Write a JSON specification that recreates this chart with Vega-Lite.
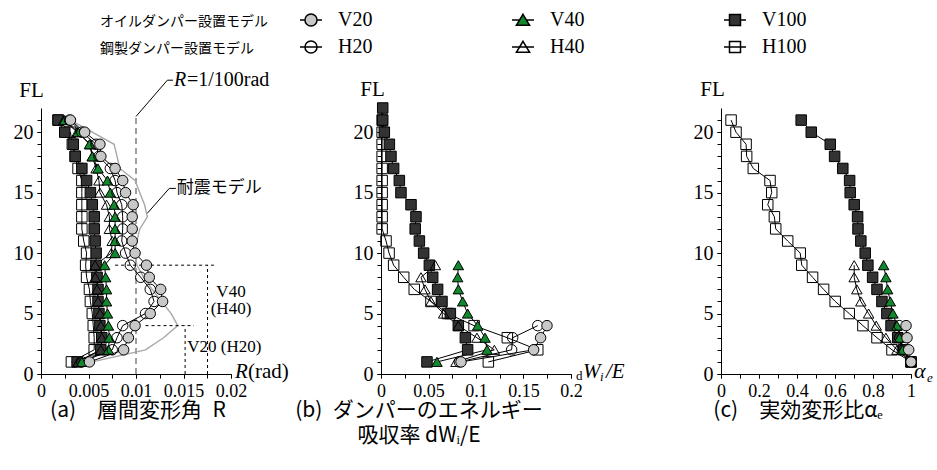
{
  "$schema": "https://vega.github.io/schema/vega-lite/v6.json",
  "background": "white",
  "padding": {"left": 13, "top": 8, "right": 5, "bottom": 5},
  "bounds": "flush",
  "spacing": 150,
  "config": {
    "view": {"stroke": null},
    "axis": {"grid": false, "domainColor": "black", "tickColor": "black", "labelColor": "black", "labelFont": "Liberation Serif", "labelFontSize": 20, "titleFont": "Liberation Serif", "titleFontSize": 21, "titleFontWeight": "normal", "titleColor": "black", "labelOverlap": false, "labelFlush": false, "labelBound": false, "tickSize": 4, "labelPadding": 4},
    "axisX": {"labelFontSize": 18},
    "text": {"font": "Liberation Serif", "fontSize": 21, "color": "black"},
    "title": {"font": "Noto Sans CJK JP", "fontSize": 21, "fontWeight": "normal", "color": "black"}
  },
  "datasets": {
    "refA": [{"x": 0.01, "y": 0, "y2": 21.3}],
    "seis": [
      {"y": 1, "x": 0.0054}, {"y": 2, "x": 0.0110}, {"y": 3, "x": 0.0129}, {"y": 4, "x": 0.0144}, {"y": 5, "x": 0.0137},
      {"y": 6, "x": 0.0127}, {"y": 7, "x": 0.0117}, {"y": 8, "x": 0.0108}, {"y": 9, "x": 0.0101}, {"y": 10, "x": 0.0099},
      {"y": 11, "x": 0.0101}, {"y": 12, "x": 0.0104}, {"y": 13, "x": 0.0112}, {"y": 14, "x": 0.0109}, {"y": 15, "x": 0.0104},
      {"y": 16, "x": 0.0099}, {"y": 17, "x": 0.0083}, {"y": 18, "x": 0.0080}, {"y": 19, "x": 0.0077}, {"y": 20, "x": 0.0054}, {"y": 21, "x": 0.0031}
    ],
    "guideA": [
      {"x": 0.0078, "x2": 0.0182, "y": 9, "y2": 9},
      {"x": 0.01753, "x2": 0.01753, "y": 0, "y2": 9},
      {"x": 0.0110, "x2": 0.0161, "y": 4, "y2": 4},
      {"x": 0.01517, "x2": 0.01517, "y": 0, "y2": 4}
    ],
    "leaderA": [
      {"x": 0.01, "x2": 0.0133, "y": 21.3, "y2": 24.3},
      {"x": 0.0133, "x2": 0.0139, "y": 24.3, "y2": 24.3},
      {"x": 0.0112, "x2": 0.0135, "y": 13.3, "y2": 15.35},
      {"x": 0.0135, "x2": 0.0142, "y": 15.35, "y2": 15.35}
    ],
    "noteA": [
      {"x": 0.0200, "y": 6.8, "t": "V40"},
      {"x": 0.0200, "y": 5.35, "t": "(H40)"},
      {"x": 0.0193, "y": 2.2, "t": "V20 (H20)"}
    ],
    "noteJ": [{"x": 0.0143, "y": 15.35, "t": "耐震モデル"}],
    "refLbl": [{"x": 0.0140, "y": 24.3}],
    "endA": [{"x": 0.02, "y": 0}],
    "endB": [{"x": 0.2, "y": 0}],
    "endC": [{"x": 1, "y": 0}],
    "ptsA": [
      {"s": "H100", "y": 1, "x": 0.0032}, {"s": "H100", "y": 2, "x": 0.0056}, {"s": "H100", "y": 3, "x": 0.0056}, {"s": "H100", "y": 4, "x": 0.0055}, {"s": "H100", "y": 5, "x": 0.0054}, {"s": "H100", "y": 6, "x": 0.0052}, {"s": "H100", "y": 7, "x": 0.0051}, {"s": "H100", "y": 8, "x": 0.0048}, {"s": "H100", "y": 9, "x": 0.0047}, {"s": "H100", "y": 10, "x": 0.0048}, {"s": "H100", "y": 11, "x": 0.0045}, {"s": "H100", "y": 12, "x": 0.0043}, {"s": "H100", "y": 13, "x": 0.0043}, {"s": "H100", "y": 14, "x": 0.0043}, {"s": "H100", "y": 15, "x": 0.0043}, {"s": "H100", "y": 16, "x": 0.0043}, {"s": "H100", "y": 17, "x": 0.0039}, {"s": "H100", "y": 18, "x": 0.0036}, {"s": "H100", "y": 19, "x": 0.0033}, {"s": "H100", "y": 20, "x": 0.0031}, {"s": "H100", "y": 21, "x": 0.0018},
      {"s": "V100", "y": 1, "x": 0.0038}, {"s": "V100", "y": 2, "x": 0.0063}, {"s": "V100", "y": 3, "x": 0.0064}, {"s": "V100", "y": 4, "x": 0.0062}, {"s": "V100", "y": 5, "x": 0.0061}, {"s": "V100", "y": 6, "x": 0.0060}, {"s": "V100", "y": 7, "x": 0.0060}, {"s": "V100", "y": 8, "x": 0.0059}, {"s": "V100", "y": 9, "x": 0.0058}, {"s": "V100", "y": 10, "x": 0.0058}, {"s": "V100", "y": 11, "x": 0.0057}, {"s": "V100", "y": 12, "x": 0.0056}, {"s": "V100", "y": 13, "x": 0.0056}, {"s": "V100", "y": 14, "x": 0.0054}, {"s": "V100", "y": 15, "x": 0.0052}, {"s": "V100", "y": 16, "x": 0.0048}, {"s": "V100", "y": 17, "x": 0.0043}, {"s": "V100", "y": 18, "x": 0.0036}, {"s": "V100", "y": 19, "x": 0.0034}, {"s": "V100", "y": 20, "x": 0.0025}, {"s": "V100", "y": 21, "x": 0.0018},
      {"s": "H40", "y": 1, "x": 0.0039}, {"s": "H40", "y": 2, "x": 0.0063}, {"s": "H40", "y": 3, "x": 0.0064}, {"s": "H40", "y": 4, "x": 0.0063}, {"s": "H40", "y": 5, "x": 0.0062}, {"s": "H40", "y": 6, "x": 0.0060}, {"s": "H40", "y": 7, "x": 0.0059}, {"s": "H40", "y": 8, "x": 0.0057}, {"s": "H40", "y": 9, "x": 0.0057}, {"s": "H40", "y": 10, "x": 0.0074}, {"s": "H40", "y": 11, "x": 0.0075}, {"s": "H40", "y": 12, "x": 0.0072}, {"s": "H40", "y": 13, "x": 0.0072}, {"s": "H40", "y": 14, "x": 0.0069}, {"s": "H40", "y": 15, "x": 0.0062}, {"s": "H40", "y": 16, "x": 0.0061}, {"s": "H40", "y": 17, "x": 0.0058}, {"s": "H40", "y": 18, "x": 0.0054}, {"s": "H40", "y": 19, "x": 0.0052}, {"s": "H40", "y": 20, "x": 0.0038}, {"s": "H40", "y": 21, "x": 0.0024},
      {"s": "V40", "y": 1, "x": 0.0043}, {"s": "V40", "y": 2, "x": 0.0071}, {"s": "V40", "y": 3, "x": 0.0072}, {"s": "V40", "y": 4, "x": 0.0071}, {"s": "V40", "y": 5, "x": 0.0070}, {"s": "V40", "y": 6, "x": 0.0069}, {"s": "V40", "y": 7, "x": 0.0069}, {"s": "V40", "y": 8, "x": 0.0068}, {"s": "V40", "y": 9, "x": 0.0067}, {"s": "V40", "y": 10, "x": 0.0078}, {"s": "V40", "y": 11, "x": 0.0078}, {"s": "V40", "y": 12, "x": 0.0078}, {"s": "V40", "y": 13, "x": 0.0078}, {"s": "V40", "y": 14, "x": 0.0077}, {"s": "V40", "y": 15, "x": 0.0073}, {"s": "V40", "y": 16, "x": 0.0070}, {"s": "V40", "y": 17, "x": 0.0060}, {"s": "V40", "y": 18, "x": 0.0054}, {"s": "V40", "y": 19, "x": 0.0051}, {"s": "V40", "y": 20, "x": 0.0039}, {"s": "V40", "y": 21, "x": 0.0025},
      {"s": "H20", "y": 1, "x": 0.0043}, {"s": "H20", "y": 2, "x": 0.0075}, {"s": "H20", "y": 3, "x": 0.0080}, {"s": "H20", "y": 4, "x": 0.0086}, {"s": "H20", "y": 5, "x": 0.0110}, {"s": "H20", "y": 6, "x": 0.0119}, {"s": "H20", "y": 7, "x": 0.0115}, {"s": "H20", "y": 8, "x": 0.0105}, {"s": "H20", "y": 9, "x": 0.0094}, {"s": "H20", "y": 10, "x": 0.0089}, {"s": "H20", "y": 11, "x": 0.0085}, {"s": "H20", "y": 12, "x": 0.0086}, {"s": "H20", "y": 13, "x": 0.0086}, {"s": "H20", "y": 14, "x": 0.0085}, {"s": "H20", "y": 15, "x": 0.0080}, {"s": "H20", "y": 16, "x": 0.0078}, {"s": "H20", "y": 17, "x": 0.0073}, {"s": "H20", "y": 18, "x": 0.0061}, {"s": "H20", "y": 19, "x": 0.0058}, {"s": "H20", "y": 20, "x": 0.0043}, {"s": "H20", "y": 21, "x": 0.0030},
      {"s": "V20", "y": 1, "x": 0.0051}, {"s": "V20", "y": 2, "x": 0.0087}, {"s": "V20", "y": 3, "x": 0.0092}, {"s": "V20", "y": 4, "x": 0.0099}, {"s": "V20", "y": 5, "x": 0.0115}, {"s": "V20", "y": 6, "x": 0.0128}, {"s": "V20", "y": 7, "x": 0.0126}, {"s": "V20", "y": 8, "x": 0.0114}, {"s": "V20", "y": 9, "x": 0.0111}, {"s": "V20", "y": 10, "x": 0.0099}, {"s": "V20", "y": 11, "x": 0.0096}, {"s": "V20", "y": 12, "x": 0.0096}, {"s": "V20", "y": 13, "x": 0.0096}, {"s": "V20", "y": 14, "x": 0.0097}, {"s": "V20", "y": 15, "x": 0.0089}, {"s": "V20", "y": 16, "x": 0.0086}, {"s": "V20", "y": 17, "x": 0.0078}, {"s": "V20", "y": 18, "x": 0.0063}, {"s": "V20", "y": 19, "x": 0.0062}, {"s": "V20", "y": 20, "x": 0.0046}, {"s": "V20", "y": 21, "x": 0.0031}
    ],
    "ptsB": [
      {"s": "H100", "y": 1, "x": 0.113}, {"s": "H100", "y": 2, "x": 0.165}, {"s": "H100", "y": 3, "x": 0.133}, {"s": "H100", "y": 4, "x": 0.098}, {"s": "H100", "y": 5, "x": 0.070}, {"s": "H100", "y": 6, "x": 0.0526}, {"s": "H100", "y": 7, "x": 0.035}, {"s": "H100", "y": 8, "x": 0.0239}, {"s": "H100", "y": 9, "x": 0.0133}, {"s": "H100", "y": 10, "x": 0.0085}, {"s": "H100", "y": 11, "x": 0.0053}, {"s": "H100", "y": 12, "x": 0.0012}, {"s": "H100", "y": 13, "x": 0.0012}, {"s": "H100", "y": 14, "x": 0.0012}, {"s": "H100", "y": 15, "x": 0.0012}, {"s": "H100", "y": 16, "x": 0.0012}, {"s": "H100", "y": 17, "x": 0.0012}, {"s": "H100", "y": 18, "x": 0.0012}, {"s": "H100", "y": 19, "x": 0.0012}, {"s": "H100", "y": 20, "x": 0.0012}, {"s": "H100", "y": 21, "x": 0.0012},
      {"s": "V100", "y": 1, "x": 0.0484}, {"s": "V100", "y": 2, "x": 0.0912}, {"s": "V100", "y": 3, "x": 0.0888}, {"s": "V100", "y": 4, "x": 0.0814}, {"s": "V100", "y": 5, "x": 0.073}, {"s": "V100", "y": 6, "x": 0.0642}, {"s": "V100", "y": 7, "x": 0.0596}, {"s": "V100", "y": 8, "x": 0.0544}, {"s": "V100", "y": 9, "x": 0.0509}, {"s": "V100", "y": 10, "x": 0.0449}, {"s": "V100", "y": 11, "x": 0.0404}, {"s": "V100", "y": 12, "x": 0.036}, {"s": "V100", "y": 13, "x": 0.0368}, {"s": "V100", "y": 14, "x": 0.0316}, {"s": "V100", "y": 15, "x": 0.021}, {"s": "V100", "y": 16, "x": 0.0193}, {"s": "V100", "y": 17, "x": 0.0133}, {"s": "V100", "y": 18, "x": 0.0105}, {"s": "V100", "y": 19, "x": 0.0088}, {"s": "V100", "y": 20, "x": 0.0035}, {"s": "V100", "y": 21, "x": 0.0018}, {"s": "V100", "y": 22, "x": 0.0018},
      {"s": "H40", "y": 1, "x": 0.0789}, {"s": "H40", "y": 2, "x": 0.1193}, {"s": "H40", "y": 3, "x": 0.101}, {"s": "H40", "y": 4, "x": 0.0814}, {"s": "H40", "y": 5, "x": 0.066}, {"s": "H40", "y": 6, "x": 0.0526}, {"s": "H40", "y": 7, "x": 0.0463}, {"s": "H40", "y": 8, "x": 0.0421}, {"s": "H40", "y": 9, "x": 0.0572},
      {"s": "V40", "y": 1, "x": 0.0589}, {"s": "V40", "y": 2, "x": 0.1116}, {"s": "V40", "y": 3, "x": 0.1095}, {"s": "V40", "y": 4, "x": 0.1018}, {"s": "V40", "y": 5, "x": 0.0912}, {"s": "V40", "y": 6, "x": 0.086}, {"s": "V40", "y": 7, "x": 0.0814}, {"s": "V40", "y": 8, "x": 0.0807}, {"s": "V40", "y": 9, "x": 0.0814},
      {"s": "H20", "y": 1, "x": 0.0825}, {"s": "H20", "y": 2, "x": 0.1375}, {"s": "H20", "y": 3, "x": 0.1386}, {"s": "H20", "y": 4, "x": 0.165},
      {"s": "V20", "y": 1, "x": 0.0842}, {"s": "V20", "y": 2, "x": 0.1607}, {"s": "V20", "y": 3, "x": 0.168}, {"s": "V20", "y": 4, "x": 0.1747}
    ],
    "ptsC": [
      {"s": "H100", "y": 1, "x": 1.0}, {"s": "H100", "y": 2, "x": 0.900}, {"s": "H100", "y": 3, "x": 0.821}, {"s": "H100", "y": 4, "x": 0.747}, {"s": "H100", "y": 5, "x": 0.675}, {"s": "H100", "y": 6, "x": 0.601}, {"s": "H100", "y": 7, "x": 0.540}, {"s": "H100", "y": 8, "x": 0.482}, {"s": "H100", "y": 9, "x": 0.425}, {"s": "H100", "y": 10, "x": 0.417}, {"s": "H100", "y": 11, "x": 0.351}, {"s": "H100", "y": 12, "x": 0.288}, {"s": "H100", "y": 13, "x": 0.281}, {"s": "H100", "y": 14, "x": 0.246}, {"s": "H100", "y": 15, "x": 0.267}, {"s": "H100", "y": 16, "x": 0.258}, {"s": "H100", "y": 17, "x": 0.170}, {"s": "H100", "y": 18, "x": 0.135}, {"s": "H100", "y": 19, "x": 0.132}, {"s": "H100", "y": 20, "x": 0.079}, {"s": "H100", "y": 21, "x": 0.053},
      {"s": "V100", "y": 1, "x": 1.0}, {"s": "V100", "y": 2, "x": 0.961}, {"s": "V100", "y": 3, "x": 0.930}, {"s": "V100", "y": 4, "x": 0.895}, {"s": "V100", "y": 5, "x": 0.873}, {"s": "V100", "y": 6, "x": 0.847}, {"s": "V100", "y": 7, "x": 0.821}, {"s": "V100", "y": 8, "x": 0.798}, {"s": "V100", "y": 9, "x": 0.773}, {"s": "V100", "y": 10, "x": 0.759}, {"s": "V100", "y": 11, "x": 0.736}, {"s": "V100", "y": 12, "x": 0.721}, {"s": "V100", "y": 13, "x": 0.719}, {"s": "V100", "y": 14, "x": 0.701}, {"s": "V100", "y": 15, "x": 0.680}, {"s": "V100", "y": 16, "x": 0.677}, {"s": "V100", "y": 17, "x": 0.641}, {"s": "V100", "y": 18, "x": 0.598}, {"s": "V100", "y": 19, "x": 0.575}, {"s": "V100", "y": 20, "x": 0.475}, {"s": "V100", "y": 21, "x": 0.422},
      {"s": "H40", "y": 1, "x": 1.0}, {"s": "H40", "y": 2, "x": 0.926}, {"s": "H40", "y": 3, "x": 0.868}, {"s": "H40", "y": 4, "x": 0.817}, {"s": "H40", "y": 5, "x": 0.777}, {"s": "H40", "y": 6, "x": 0.736}, {"s": "H40", "y": 7, "x": 0.715}, {"s": "H40", "y": 8, "x": 0.701}, {"s": "H40", "y": 9, "x": 0.701},
      {"s": "V40", "y": 1, "x": 1.0}, {"s": "V40", "y": 2, "x": 0.956}, {"s": "V40", "y": 3, "x": 0.940}, {"s": "V40", "y": 4, "x": 0.926}, {"s": "V40", "y": 5, "x": 0.905}, {"s": "V40", "y": 6, "x": 0.891}, {"s": "V40", "y": 7, "x": 0.877}, {"s": "V40", "y": 8, "x": 0.868}, {"s": "V40", "y": 9, "x": 0.856},
      {"s": "H20", "y": 1, "x": 1.0}, {"s": "H20", "y": 2, "x": 0.961}, {"s": "H20", "y": 3, "x": 0.940}, {"s": "H20", "y": 4, "x": 0.938},
      {"s": "V20", "y": 1, "x": 1.0}, {"s": "V20", "y": 2, "x": 0.988}, {"s": "V20", "y": 3, "x": 0.979}, {"s": "V20", "y": 4, "x": 0.974}
    ]
  },
  "hconcat": [
    {
      "width": 190, "height": 266,
      "title": {"text": "(a)\u2003層間変形角\u2002R", "orient": "bottom", "anchor": "middle", "frame": "group", "align": "center", "dx": 2, "offset": 0},
      "resolve": {"scale": {"shape": "independent", "fill": "independent"}, "axis": {"x": "independent", "y": "independent"}},
      "layer": [
        {
          "data": {"name": "refA"},
          "mark": {"type": "rule", "color": "#808080", "strokeDash": [6, 4], "strokeWidth": 1.5},
          "encoding": {
            "x": {"field": "x", "type": "quantitative", "scale": {"domain": [0, 0.02], "nice": false},
              "axis": {"title": null, "orient": "bottom", "values": [0, 0.005, 0.01, 0.015, 0.02], "format": ".3~f"}},
            "y": {"field": "y", "type": "quantitative", "scale": {"domain": [0, 22], "nice": false},
              "axis": {"orient": "left", "values": [0, 5, 10, 15, 20], "title": "FL", "titleAngle": 0, "titleX": -10, "titleY": -12, "titleAlign": "center", "titleBaseline": "alphabetic"}},
            "y2": {"field": "y2"}
          }
        },
        {
          "data": {"name": "seis"},
          "mark": {"type": "line", "color": "#a8a8a8", "strokeWidth": 1.4},
          "encoding": {"x": {"field": "x", "type": "quantitative", "axis": null}, "y": {"field": "y", "type": "quantitative", "axis": null}, "order": {"field": "y"}}
        },
        {
          "data": {"name": "guideA"},
          "mark": {"type": "rule", "color": "black", "strokeDash": [3, 3], "strokeWidth": 1},
          "encoding": {"x": {"field": "x", "type": "quantitative", "axis": null}, "x2": {"field": "x2"}, "y": {"field": "y", "type": "quantitative", "axis": null}, "y2": {"field": "y2"}}
        },
        {
          "data": {"name": "leaderA"},
          "mark": {"type": "rule", "color": "black", "strokeWidth": 1},
          "encoding": {"x": {"field": "x", "type": "quantitative", "axis": null}, "x2": {"field": "x2"}, "y": {"field": "y", "type": "quantitative", "axis": null}, "y2": {"field": "y2"}}
        },
        {
          "data": {"name": "ptsA"},
          "mark": {"type": "line", "color": "black", "strokeWidth": 1},
          "encoding": {
            "x": {"field": "x", "type": "quantitative", "axis": {"title": null, "orient": "bottom", "labels": false, "domain": false, "values": [0, 0.0025, 0.005, 0.0075, 0.01, 0.0125, 0.015, 0.0175, 0.02]}},
            "y": {"field": "y", "type": "quantitative", "axis": {"title": null, "orient": "left", "labels": false, "domain": false, "values": [0,1,2,3,4,5,6,7,8,9,10,11,12,13,14,15,16,17,18,19,20,21]}},
            "detail": {"field": "s"}, "order": {"field": "y"}}
        },
        {
          "data": {"name": "ptsA"},
          "mark": {"type": "point", "filled": true, "size": 110, "stroke": "black", "strokeWidth": 1, "opacity": 1},
          "encoding": {
            "x": {"field": "x", "type": "quantitative", "axis": null},
            "y": {"field": "y", "type": "quantitative", "axis": null},
            "shape": {"field": "s", "type": "nominal", "scale": {"domain": ["V20", "V40", "V100", "H20", "H40", "H100"], "range": ["circle", "triangle-up", "square", "circle", "triangle-up", "square"]}, "legend": null},
            "fill": {"field": "s", "type": "nominal", "scale": {"domain": ["V20", "V40", "V100", "H20", "H40", "H100"], "range": ["#c8c8c8", "#12882c", "#333333", "transparent", "transparent", "transparent"]}, "legend": null}
          }
        },
        {
          "data": {"name": "noteA"},
          "mark": {"type": "text", "fontSize": 17, "align": "center", "baseline": "middle"},
          "encoding": {"x": {"field": "x", "type": "quantitative", "axis": null}, "y": {"field": "y", "type": "quantitative", "axis": null}, "text": {"field": "t"}}
        },
        {
          "data": {"name": "noteJ"},
          "mark": {"type": "text", "font": "Noto Sans CJK JP", "fontSize": 17, "align": "left", "baseline": "middle"},
          "encoding": {"x": {"field": "x", "type": "quantitative", "axis": null}, "y": {"field": "y", "type": "quantitative", "axis": null}, "text": {"field": "t"}}
        },
        {
          "data": {"name": "refLbl"},
          "mark": {"type": "text", "fontStyle": "italic", "fontSize": 20, "align": "left", "baseline": "middle"},
          "encoding": {"x": {"field": "x", "type": "quantitative", "axis": null}, "y": {"field": "y", "type": "quantitative", "axis": null}, "text": {"value": "R"}}
        },
        {
          "data": {"name": "refLbl"},
          "mark": {"type": "text", "fontSize": 20, "align": "left", "baseline": "middle", "dx": 13},
          "encoding": {"x": {"field": "x", "type": "quantitative", "axis": null}, "y": {"field": "y", "type": "quantitative", "axis": null}, "text": {"value": "=1/100rad"}}
        },
        {
          "data": {"name": "endA"},
          "mark": {"type": "text", "fontStyle": "italic", "fontSize": 21, "align": "left", "baseline": "alphabetic", "dx": 4, "dy": 4},
          "encoding": {"x": {"field": "x", "type": "quantitative", "axis": null}, "y": {"field": "y", "type": "quantitative", "axis": null}, "text": {"value": "R"}}
        },
        {
          "data": {"name": "endA"},
          "mark": {"type": "text", "fontSize": 21, "align": "left", "baseline": "alphabetic", "dx": 17, "dy": 4},
          "encoding": {"x": {"field": "x", "type": "quantitative", "axis": null}, "y": {"field": "y", "type": "quantitative", "axis": null}, "text": {"value": "(rad)"}}
        },
        {
          "data": {"name": "ptsA"},
          "mark": {"type": "point", "filled": true, "size": 100, "stroke": "black", "strokeWidth": 1, "opacity": 0},
          "encoding": {
            "x": {"field": "x", "type": "quantitative", "axis": null},
            "y": {"field": "y", "type": "quantitative", "axis": null},
            "shape": {"field": "s", "type": "nominal", "scale": {"domain": ["V20", "V40", "V100", "H20", "H40", "H100"], "range": ["M-1,0H-0.55M0.55,0H1M-0.55,0A0.55,0.55,0,1,1,0.55,0A0.55,0.55,0,1,1,-0.55,0Z", "M-1,0H-0.3M0.3,0H1M0,-0.52L0.6,0.48L-0.6,0.48Z", "M-1,0H-0.5M0.5,0H1M-0.5,-0.5H0.5V0.5H-0.5Z", "M-1,0H1M-0.55,0A0.55,0.55,0,1,1,0.55,0A0.55,0.55,0,1,1,-0.55,0Z", "M-1,0H1M0,-0.52L0.6,0.48L-0.6,0.48Z", "M-1,0H1M-0.5,-0.5H0.5V0.5H-0.5Z"]},
              "legend": {"orient": "none", "legendX": 59, "legendY": -100, "direction": "horizontal", "title": ["オイルダンパー設置モデル", "鋼製ダンパー設置モデル"], "titleOrient": "left", "titleAnchor": "start", "titleAlign": "left", "titleBaseline": "line-top", "titleFont": "Noto Sans CJK JP", "titleFontSize": 14, "titleFontWeight": "normal", "titleColor": "black", "titleLineHeight": 27, "titlePadding": 31, "titleLimit": 300, "columns": 3, "gridAlign": "all", "columnPadding": 126, "rowPadding": 5, "symbolSize": 484, "symbolOpacity": 1, "labelFont": "Liberation Serif", "labelFontSize": 20, "labelColor": "black", "labelOffset": 15,
                "encode": {"symbols": {"stroke": {"value": "black"}, "strokeWidth": {"value": 1}}}}},
            "fill": {"field": "s", "type": "nominal", "scale": {"domain": ["V20", "V40", "V100", "H20", "H40", "H100"], "range": ["#c8c8c8", "#12882c", "#333333", "transparent", "transparent", "transparent"]},
              "legend": {"orient": "none", "legendX": 59, "legendY": -100, "direction": "horizontal", "title": ["オイルダンパー設置モデル", "鋼製ダンパー設置モデル"], "titleOrient": "left", "titleAnchor": "start", "titleAlign": "left", "titleBaseline": "line-top", "titleFont": "Noto Sans CJK JP", "titleFontSize": 14, "titleFontWeight": "normal", "titleColor": "black", "titleLineHeight": 27, "titlePadding": 31, "titleLimit": 300, "columns": 3, "gridAlign": "all", "columnPadding": 126, "rowPadding": 5, "symbolSize": 484, "symbolOpacity": 1, "labelFont": "Liberation Serif", "labelFontSize": 20, "labelColor": "black", "labelOffset": 15,
                "encode": {"symbols": {"stroke": {"value": "black"}, "strokeWidth": {"value": 1}}}}}
          }
        }
      ]
    },
    {
      "width": 190, "height": 266,
      "title": {"text": ["(b)\u2002ダンパーのエネルギー", "吸収率 dWᵢ/E"], "orient": "bottom", "anchor": "middle", "frame": "group", "align": "center", "dx": -57, "offset": 0, "lineHeight": 25},
      "resolve": {"axis": {"x": "independent", "y": "independent"}},
      "layer": [
        {
          "data": {"name": "ptsB"},
          "mark": {"type": "line", "color": "black", "strokeWidth": 1},
          "encoding": {
            "x": {"field": "x", "type": "quantitative", "scale": {"domain": [0, 0.2], "nice": false},
              "axis": {"title": null, "orient": "bottom", "values": [0, 0.05, 0.1, 0.15, 0.2], "format": "~g"}},
            "y": {"field": "y", "type": "quantitative", "scale": {"domain": [0, 22], "nice": false},
              "axis": {"orient": "left", "values": [0, 5, 10, 15, 20], "title": "FL", "titleAngle": 0, "titleX": -9, "titleY": -13, "titleAlign": "center", "titleBaseline": "alphabetic"}},
            "detail": {"field": "s"}, "order": {"field": "y"}
          }
        },
        {
          "data": {"name": "ptsB"},
          "mark": {"type": "point", "filled": true, "size": 110, "stroke": "black", "strokeWidth": 1, "opacity": 1},
          "encoding": {
            "x": {"field": "x", "type": "quantitative", "axis": {"title": null, "orient": "bottom", "labels": false, "domain": false, "values": [0, 0.025, 0.05, 0.075, 0.1, 0.125, 0.15, 0.175, 0.2]}},
            "y": {"field": "y", "type": "quantitative", "axis": {"title": null, "orient": "left", "labels": false, "domain": false, "values": [0,1,2,3,4,5,6,7,8,9,10,11,12,13,14,15,16,17,18,19,20,21]}},
            "shape": {"field": "s", "type": "nominal", "scale": {"domain": ["V20", "V40", "V100", "H20", "H40", "H100"], "range": ["circle", "triangle-up", "square", "circle", "triangle-up", "square"]}, "legend": null},
            "fill": {"field": "s", "type": "nominal", "scale": {"domain": ["V20", "V40", "V100", "H20", "H40", "H100"], "range": ["#c8c8c8", "#12882c", "#333333", "transparent", "transparent", "transparent"]}, "legend": null}
          }
        },
        {
          "data": {"name": "endB"},
          "mark": {"type": "text", "fontSize": 13, "align": "left", "baseline": "alphabetic", "dx": 5, "dy": 6},
          "encoding": {"x": {"field": "x", "type": "quantitative", "axis": null}, "y": {"field": "y", "type": "quantitative", "axis": null}, "text": {"value": "d"}}
        },
        {
          "data": {"name": "endB"},
          "mark": {"type": "text", "fontStyle": "italic", "fontSize": 21, "align": "left", "baseline": "alphabetic", "dx": 12, "dy": 4},
          "encoding": {"x": {"field": "x", "type": "quantitative", "axis": null}, "y": {"field": "y", "type": "quantitative", "axis": null}, "text": {"value": "W"}}
        },
        {
          "data": {"name": "endB"},
          "mark": {"type": "text", "fontStyle": "italic", "fontSize": 13, "align": "left", "baseline": "alphabetic", "dx": 29, "dy": 7},
          "encoding": {"x": {"field": "x", "type": "quantitative", "axis": null}, "y": {"field": "y", "type": "quantitative", "axis": null}, "text": {"value": "i"}}
        },
        {
          "data": {"name": "endB"},
          "mark": {"type": "text", "fontStyle": "italic", "fontSize": 21, "align": "left", "baseline": "alphabetic", "dx": 35, "dy": 4},
          "encoding": {"x": {"field": "x", "type": "quantitative", "axis": null}, "y": {"field": "y", "type": "quantitative", "axis": null}, "text": {"value": "/E"}}
        }
      ]
    },
    {
      "width": 190, "height": 266,
      "title": {"text": "(c)\u2003実効変形比αₑ", "orient": "bottom", "anchor": "middle", "frame": "group", "align": "center", "dx": -18, "offset": 0},
      "resolve": {"axis": {"x": "independent", "y": "independent"}},
      "layer": [
        {
          "data": {"name": "ptsC"},
          "mark": {"type": "line", "color": "black", "strokeWidth": 1},
          "encoding": {
            "x": {"field": "x", "type": "quantitative", "scale": {"domain": [0, 1], "nice": false},
              "axis": {"title": null, "orient": "bottom", "values": [0, 0.2, 0.4, 0.6, 0.8, 1], "format": "~g"}},
            "y": {"field": "y", "type": "quantitative", "scale": {"domain": [0, 22], "nice": false},
              "axis": {"orient": "left", "values": [0, 5, 10, 15, 20], "title": "FL", "titleAngle": 0, "titleX": -9, "titleY": -13, "titleAlign": "center", "titleBaseline": "alphabetic"}},
            "detail": {"field": "s"}, "order": {"field": "y"}
          }
        },
        {
          "data": {"name": "ptsC"},
          "mark": {"type": "point", "filled": true, "size": 110, "stroke": "black", "strokeWidth": 1, "opacity": 1},
          "encoding": {
            "x": {"field": "x", "type": "quantitative", "axis": {"title": null, "orient": "bottom", "labels": false, "domain": false, "values": [0, 0.1, 0.2, 0.3, 0.4, 0.5, 0.6, 0.7, 0.8, 0.9, 1]}},
            "y": {"field": "y", "type": "quantitative", "axis": {"title": null, "orient": "left", "labels": false, "domain": false, "values": [0,1,2,3,4,5,6,7,8,9,10,11,12,13,14,15,16,17,18,19,20,21]}},
            "shape": {"field": "s", "type": "nominal", "scale": {"domain": ["V20", "V40", "V100", "H20", "H40", "H100"], "range": ["circle", "triangle-up", "square", "circle", "triangle-up", "square"]}, "legend": null},
            "fill": {"field": "s", "type": "nominal", "scale": {"domain": ["V20", "V40", "V100", "H20", "H40", "H100"], "range": ["#c8c8c8", "#12882c", "#333333", "transparent", "transparent", "transparent"]}, "legend": null}
          }
        },
        {
          "data": {"name": "endC"},
          "mark": {"type": "text", "fontStyle": "italic", "fontSize": 22, "align": "left", "baseline": "alphabetic", "dx": 3, "dy": 4},
          "encoding": {"x": {"field": "x", "type": "quantitative", "axis": null}, "y": {"field": "y", "type": "quantitative", "axis": null}, "text": {"value": "α"}}
        },
        {
          "data": {"name": "endC"},
          "mark": {"type": "text", "fontStyle": "italic", "fontSize": 13, "align": "left", "baseline": "alphabetic", "dx": 16, "dy": 8},
          "encoding": {"x": {"field": "x", "type": "quantitative", "axis": null}, "y": {"field": "y", "type": "quantitative", "axis": null}, "text": {"value": "e"}}
        }
      ]
    }
  ]
}
